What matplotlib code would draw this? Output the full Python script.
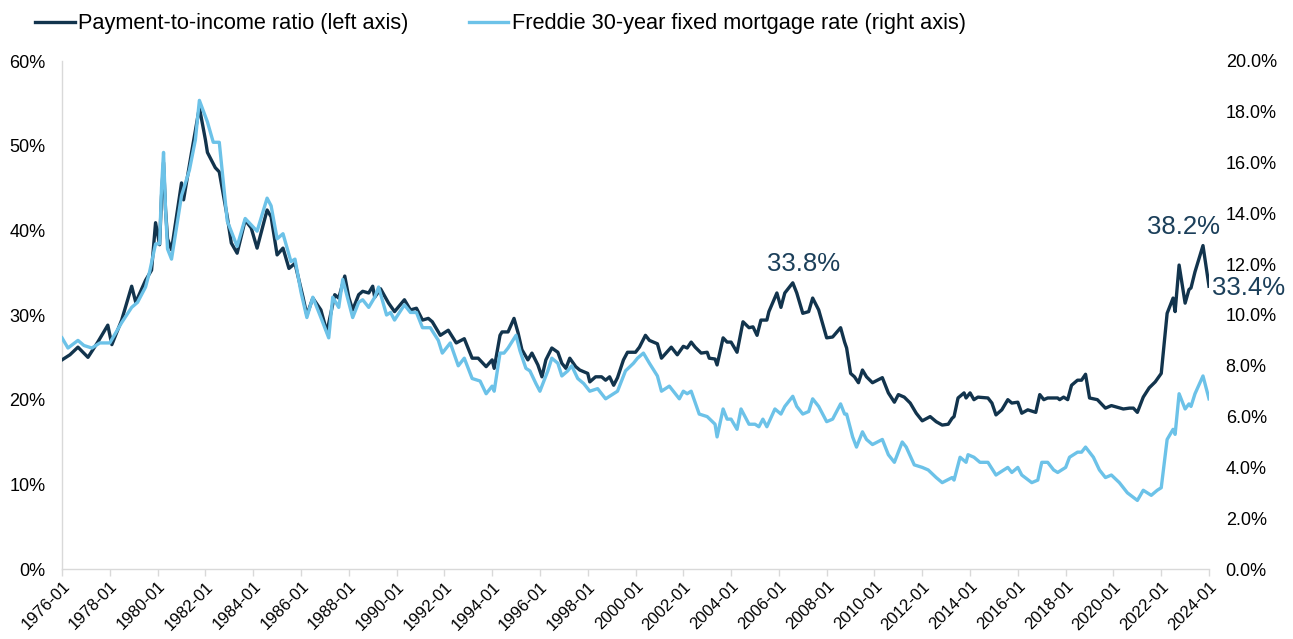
import matplotlib
matplotlib.use("Agg")
import matplotlib.pyplot as plt
from matplotlib.ticker import FuncFormatter, MultipleLocator
import pandas as pd

plt.rcParams['font.family'] = ['Liberation Sans', 'DejaVu Sans']

# ---------------- data ----------------
pti_dates = [
    "1976-01", "1976-05", "1976-09", "1977-02", "1977-07", "1977-12", "1978-02", "1978-07",
    "1978-12", "1979-02", "1979-07", "1979-10", "1979-12", "1980-02", "1980-03", "1980-04",
    "1980-05", "1980-06", "1980-08", "1981-01", "1981-02", "1981-06", "1981-10", "1982-01",
    "1982-02", "1982-06", "1982-08", "1982-12", "1983-02", "1983-05", "1983-09", "1983-12",
    "1984-03", "1984-08", "1984-10", "1985-01", "1985-04", "1985-07", "1985-10", "1986-02",
    "1986-04", "1986-07", "1986-11", "1987-02", "1987-06", "1987-08", "1987-11", "1988-01",
    "1988-03", "1988-06", "1988-08", "1988-11", "1989-01", "1989-02", "1989-05", "1989-09",
    "1989-12", "1990-05", "1990-08", "1990-11", "1991-02", "1991-05", "1991-07", "1991-11",
    "1992-03", "1992-07", "1992-11", "1993-03", "1993-06", "1993-10", "1994-01", "1994-02",
    "1994-05", "1994-06", "1994-09", "1994-12", "1995-02", "1995-04", "1995-07", "1995-09",
    "1995-12", "1996-02", "1996-04", "1996-07", "1996-10", "1996-12", "1997-02", "1997-04",
    "1997-07", "1997-09", "1998-01", "1998-02", "1998-05", "1998-08", "1998-10", "1998-12",
    "1999-02", "1999-04", "1999-07", "1999-09", "2000-01", "2000-03", "2000-06", "2000-08",
    "2000-12", "2001-02", "2001-07", "2001-10", "2002-01", "2002-03", "2002-05", "2002-07",
    "2002-10", "2003-01", "2003-02", "2003-05", "2003-06", "2003-09", "2003-11", "2004-01",
    "2004-04", "2004-07", "2004-10", "2004-12", "2005-02", "2005-04", "2005-07", "2005-08",
    "2005-12", "2006-02", "2006-04", "2006-08", "2006-10", "2007-01", "2007-04", "2007-06",
    "2007-09", "2008-01", "2008-04", "2008-08", "2008-10", "2008-11", "2009-01", "2009-03",
    "2009-05", "2009-07", "2009-09", "2009-12", "2010-05", "2010-08", "2010-11", "2011-01",
    "2011-04", "2011-07", "2011-10", "2012-01", "2012-05", "2012-08", "2012-11", "2013-02",
    "2013-04", "2013-05", "2013-07", "2013-10", "2013-11", "2014-01", "2014-03", "2014-05",
    "2014-10", "2014-12", "2015-02", "2015-05", "2015-08", "2015-10", "2016-01", "2016-03",
    "2016-06", "2016-10", "2016-12", "2017-02", "2017-04", "2017-09", "2017-10", "2017-12",
    "2018-02", "2018-04", "2018-07", "2018-09", "2018-11", "2019-01", "2019-05", "2019-09",
    "2019-12", "2020-03", "2020-06", "2020-09", "2020-11", "2021-01", "2021-04", "2021-07",
    "2021-10", "2022-01", "2022-04", "2022-07", "2022-08", "2022-10", "2023-01", "2023-03",
    "2023-04", "2023-06", "2023-10", "2024-01",
]
pti_values = [
    24.7, 25.3, 26.2, 25.0, 26.8, 28.8, 26.5, 29.4,
    33.4, 31.5, 34.1, 35.3, 40.9, 38.3, 44.0, 48.0,
    42.5, 39.0, 37.7, 45.6, 43.6, 49.1, 54.5, 50.7,
    49.2, 47.4, 46.9, 41.6, 38.5, 37.3, 41.2, 40.3,
    37.9, 42.4, 41.6, 37.1, 37.9, 35.5, 36.1, 32.1,
    30.0, 32.0, 30.6, 28.0, 32.4, 32.0, 34.6, 32.1,
    30.6, 32.4, 32.8, 32.6, 33.4, 32.1, 33.1, 31.4,
    30.4, 31.8, 30.6, 30.8, 29.4, 29.6, 29.2, 27.6,
    28.2, 26.7, 27.2, 24.9, 24.9, 23.9, 24.7, 23.7,
    27.6, 28.0, 28.0, 29.6, 27.9, 25.9, 24.7, 25.5,
    24.1, 22.7, 24.7, 26.1, 25.6, 24.3, 23.7, 24.9,
    23.9, 23.5, 23.1, 22.1, 22.7, 22.7, 22.3, 22.7,
    21.7, 22.6, 24.7, 25.6, 25.6, 26.2, 27.6, 27.0,
    26.6, 24.9, 26.2, 25.3, 26.3, 26.1, 26.8, 26.2,
    25.5, 25.6, 24.9, 24.8, 24.1, 27.3, 26.8, 26.8,
    25.6, 29.2, 28.5, 28.6, 27.6, 29.4, 29.4, 30.4,
    32.6, 30.9, 32.6, 33.8, 32.6, 30.2, 30.4, 32.0,
    30.6, 27.3, 27.4, 28.5, 26.8, 26.1, 23.1, 22.7,
    22.0, 23.5, 22.7, 22.0, 22.6, 20.8, 19.7, 20.6,
    20.3, 19.6, 18.4, 17.5, 18.0, 17.4, 17.0, 17.1,
    17.8, 18.0, 20.2, 20.8, 20.2, 20.8, 20.0, 20.3,
    20.2, 19.6, 18.2, 18.8, 20.0, 19.6, 19.7, 18.4,
    18.8, 18.5, 20.6, 20.0, 20.2, 20.2, 20.0, 20.3,
    20.0, 21.7, 22.3, 22.3, 23.0, 20.2, 20.0, 19.0,
    19.3, 19.1, 18.9, 19.0, 19.0, 18.5, 20.3, 21.4,
    22.1, 23.1, 30.2, 32.0, 30.4, 35.9, 31.4, 33.0,
    33.2, 35.1, 38.2, 33.4,
]

rate_dates = [
    "1976-01", "1976-04", "1976-09", "1976-12", "1977-04", "1977-08", "1978-01", "1978-07",
    "1978-12", "1979-03", "1979-07", "1979-09", "1979-12", "1980-02", "1980-03", "1980-04",
    "1980-05", "1980-06", "1980-08", "1981-01", "1981-05", "1981-08", "1981-10", "1982-02",
    "1982-05", "1982-08", "1982-12", "1983-05", "1983-09", "1984-03", "1984-08", "1984-10",
    "1985-01", "1985-04", "1985-08", "1985-10", "1986-01", "1986-04", "1986-07", "1986-11",
    "1987-03", "1987-05", "1987-08", "1987-10", "1987-12", "1988-03", "1988-06", "1988-08",
    "1988-11", "1989-02", "1989-04", "1989-08", "1989-10", "1989-12", "1990-05", "1990-08",
    "1990-11", "1991-02", "1991-06", "1991-10", "1991-12", "1992-04", "1992-08", "1992-11",
    "1993-03", "1993-07", "1993-10", "1994-01", "1994-02", "1994-05", "1994-07", "1994-09",
    "1995-01", "1995-03", "1995-06", "1995-08", "1995-11", "1996-01", "1996-05", "1996-07",
    "1996-10", "1996-12", "1997-03", "1997-05", "1997-08", "1997-11", "1998-02", "1998-06",
    "1998-10", "1999-02", "1999-04", "1999-08", "1999-12", "2000-02", "2000-05", "2000-08",
    "2000-12", "2001-02", "2001-06", "2001-11", "2002-01", "2002-03", "2002-05", "2002-09",
    "2003-01", "2003-05", "2003-06", "2003-09", "2003-11", "2004-01", "2004-04", "2004-06",
    "2004-10", "2005-01", "2005-03", "2005-05", "2005-07", "2005-11", "2006-02", "2006-04",
    "2006-08", "2006-10", "2007-01", "2007-04", "2007-06", "2007-09", "2008-01", "2008-04",
    "2008-08", "2008-10", "2008-11", "2009-02", "2009-04", "2009-07", "2009-09", "2009-12",
    "2010-05", "2010-08", "2010-11", "2011-03", "2011-05", "2011-09", "2012-01", "2012-04",
    "2012-08", "2012-11", "2013-04", "2013-05", "2013-08", "2013-11", "2013-12", "2014-03",
    "2014-06", "2014-10", "2015-02", "2015-04", "2015-08", "2015-10", "2016-01", "2016-03",
    "2016-08", "2016-11", "2017-01", "2017-04", "2017-07", "2017-09", "2018-01", "2018-03",
    "2018-07", "2018-09", "2018-11", "2019-03", "2019-06", "2019-09", "2019-12", "2020-04",
    "2020-08", "2021-01", "2021-04", "2021-08", "2021-11", "2022-01", "2022-04", "2022-07",
    "2022-08", "2022-10", "2023-01", "2023-03", "2023-04", "2023-06", "2023-10", "2024-01",
]
rate_values = [
    9.1, 8.7, 9.0, 8.8, 8.7, 8.9, 8.9, 9.7,
    10.3, 10.5, 11.1, 11.7, 12.8, 12.8, 15.0, 16.4,
    14.2, 12.6, 12.2, 14.7, 15.7, 16.9, 18.45, 17.6,
    16.8, 16.8, 13.7, 12.7, 13.8, 13.3, 14.6, 14.3,
    13.0, 13.2, 12.1, 12.2, 10.9, 9.9, 10.7, 9.9,
    9.1, 10.7, 10.3, 11.4, 10.8, 9.9, 10.5, 10.6,
    10.3, 10.7, 11.1, 10.0, 10.1, 9.8, 10.4, 10.1,
    10.1, 9.5, 9.5, 9.0, 8.5, 8.9, 8.0, 8.3,
    7.5, 7.4, 6.9, 7.2, 7.0, 8.5, 8.5, 8.7,
    9.2, 8.6, 7.9, 7.8, 7.3, 7.0, 7.8, 8.3,
    8.1, 7.6, 7.8, 8.0, 7.5, 7.3, 7.0, 7.1,
    6.7, 6.9, 7.0, 7.8, 8.1, 8.3, 8.5, 8.1,
    7.6, 7.0, 7.2, 6.7, 7.0, 6.9, 7.0, 6.1,
    6.0, 5.7, 5.2, 6.3, 5.9, 5.9, 5.5, 6.3,
    5.7, 5.7, 5.6, 5.9, 5.6, 6.3, 6.1, 6.4,
    6.8, 6.4, 6.1, 6.2, 6.7, 6.4, 5.8, 5.9,
    6.5, 6.1, 6.1, 5.2, 4.8, 5.4, 5.1, 4.9,
    5.1, 4.5, 4.2, 5.0, 4.8, 4.1, 4.0, 3.9,
    3.6, 3.4, 3.6, 3.5, 4.4, 4.2, 4.5, 4.4,
    4.2, 4.2, 3.7, 3.8, 4.0, 3.8, 4.0, 3.7,
    3.4, 3.5, 4.2, 4.2, 3.9, 3.8, 4.0, 4.4,
    4.6, 4.6, 4.8, 4.4, 3.9, 3.6, 3.7, 3.4,
    3.0, 2.7, 3.1, 2.9, 3.1, 3.2, 5.1, 5.5,
    5.3, 6.9, 6.3, 6.5, 6.4, 6.9, 7.6, 6.7,
]

x_tick_years = list(range(1976, 2025, 2))
annotations = [("2006-08", 33.8, "33.8%"), ("2023-10", 38.2, "38.2%"), ("2024-01", 33.4, "33.4%")]

pti_label = "Payment-to-income ratio (left axis)"
rate_label = "Freddie 30-year fixed mortgage rate (right axis)"

# ---------------- plot ----------------
DARK = "#12344d"
LIGHT = "#6cc2e8"
ANNO = "#1b3f5a"
AXC = "#d9d9d9"

fig = plt.figure(figsize=(12.93, 6.39), dpi=100)
ax = fig.add_axes([62 / 1293, 1 - 569 / 639, (1209 - 62) / 1293, (569 - 61) / 639])
ax2 = ax.twinx()

pti_x = pd.to_datetime(pti_dates)
rate_x = pd.to_datetime(rate_dates)

l1, = ax.plot(pti_x, pti_values, color=DARK, lw=2.4, label=pti_label, zorder=3)
l2, = ax2.plot(rate_x, rate_values, color=LIGHT, lw=2.4, label=rate_label, zorder=2)
ax.set_zorder(1)
ax2.set_zorder(2)
ax.patch.set_visible(False)

ax.set_ylim(0, 60)
ax2.set_ylim(0, 20)
ax.yaxis.set_major_locator(MultipleLocator(10))
ax2.yaxis.set_major_locator(MultipleLocator(2))
ax.yaxis.set_major_formatter(FuncFormatter(lambda v, p: f"{v:.0f}%"))
ax2.yaxis.set_major_formatter(FuncFormatter(lambda v, p: f"{v:.1f}%"))

ax.set_xlim(pd.Timestamp("1976-01-01"), pd.Timestamp("2024-01-01"))
ticks = [pd.Timestamp(f"{y}-01-01") for y in x_tick_years]
ax.set_xticks(ticks)
ax.set_xticklabels([t.strftime("%Y-%m") for t in ticks], rotation=45, ha="right",
                   rotation_mode="anchor", fontsize=12)

for a in (ax, ax2):
    for s in ("top", "right"):
        a.spines[s].set_visible(False)
ax2.spines["left"].set_visible(False)
ax2.spines["bottom"].set_visible(False)
ax.spines["left"].set_color(AXC)
ax.spines["bottom"].set_color(AXC)
ax.spines["left"].set_linewidth(1.0)
ax.spines["bottom"].set_linewidth(1.0)

ax.tick_params(axis="y", length=0, labelsize=13, pad=12, colors="black")
ax2.tick_params(axis="y", length=0, labelsize=13, pad=12, colors="black")
ax.tick_params(axis="x", length=5, color=AXC, width=1.0, pad=2, labelcolor="black")

# annotations
a_x = pd.to_datetime([a[0] for a in annotations])
ax.annotate(annotations[0][2], (a_x[0], annotations[0][1]), xytext=(8, 5),
            textcoords="offset points", ha="center", va="bottom", fontsize=18.5, color=ANNO)
ax.annotate(annotations[1][2], (a_x[1], annotations[1][1]), xytext=(-14, 5),
            textcoords="offset points", ha="center", va="bottom", fontsize=18.5, color=ANNO)
ax.annotate(annotations[2][2], (a_x[2], annotations[2][1]), xytext=(2, -1),
            textcoords="offset points", ha="left", va="center", fontsize=18.5, color=ANNO,
            annotation_clip=False)

fig.legend(handles=[l1, l2], loc="upper left", bbox_to_anchor=(20 / 1293, 1.0 + 2 / 639),
           ncol=2, frameon=False, fontsize=15.7, handlelength=1.8, handletextpad=0.15,
           columnspacing=2.8, borderaxespad=0.3)

fig.savefig("out.png", dpi=100)
